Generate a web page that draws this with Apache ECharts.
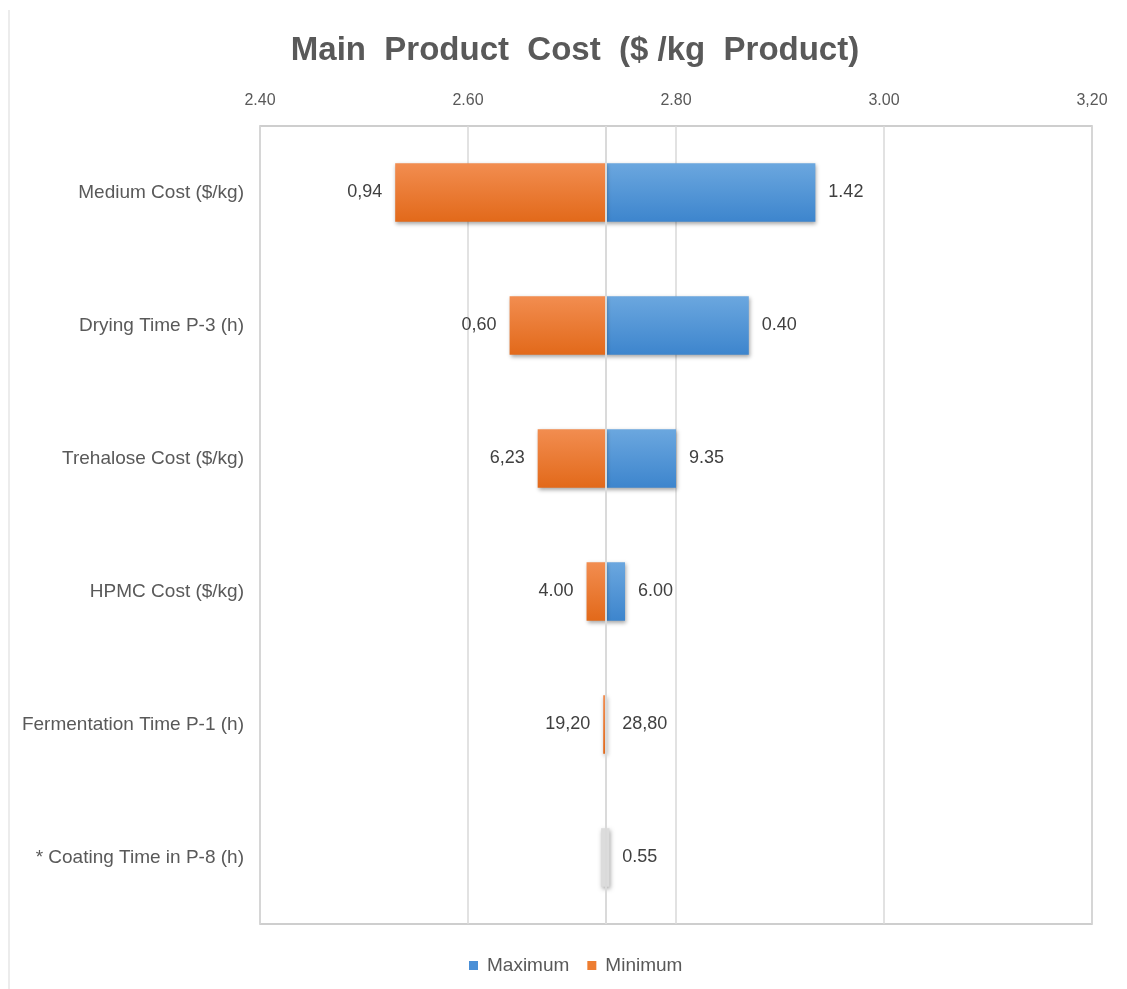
<!DOCTYPE html>
<html>
<head>
<meta charset="utf-8">
<script src="https://cdn.jsdelivr.net/npm/echarts@6/dist/echarts.min.js"></script>
<style>
  html, body { margin: 0; padding: 0; background: #ffffff; }
  #chart { width: 1127px; height: 989px; }
</style>
</head>
<body>
<div id="chart"></div>
<script>
// Sensitivity (tornado) chart of the main product cost
const categories = [
  'Medium Cost ($/kg)',
  'Drying Time P-3 (h)',
  'Trehalose Cost ($/kg)',
  'HPMC Cost ($/kg)',
  'Fermentation Time P-1 (h)',
  '* Coating Time in P-8 (h)'
];
const baseCost = 2.733;
// product cost when the parameter is at its low / high value
const minimumCost = [2.530, 2.640, 2.667, 2.714, 2.730, 2.733];
const maximumCost = [2.934, 2.870, 2.800, 2.751, 2.733, 2.733];
// parameter values written next to the bars
const minimumLabels = ['0,94', '0,60', '6,23', '4.00', '19,20', ''];
const maximumLabels = ['1.42', '0.40', '9.35', '6.00', '28,80', '0.55'];
// coating time has an almost flat response
const flatRange = [[5, 2.728, 2.736]];
const tickLabels = { '2.4': '2.40', '2.6': '2.60', '2.8': '2.80', '3': '3.00', '3.2': '3,20' };

const textColor = '#595959';
const labelFont = '"Liberation Sans", Arial, sans-serif';

function grad(top, bottom) {
  return new echarts.graphic.LinearGradient(0, 0, 0, 1, [
    { offset: 0, color: top },
    { offset: 1, color: bottom }
  ]);
}

function makeRender(fill, labels, side) {
  return function (params, api) {
    const idx = api.value(0);
    const p0 = api.coord([api.value(1), idx]);
    const p1 = api.coord([api.value(2), idx]);
    const h = api.size([0, 1])[1] * 0.44;
    const children = [];
    children.push({
      type: 'rect',
      shape: { x: p0[0], y: p0[1] - h / 2, width: Math.max(p1[0] - p0[0], 0), height: h },
      style: {
        fill: fill,
        shadowBlur: 4,
        shadowOffsetX: 1,
        shadowOffsetY: 2,
        shadowColor: 'rgba(0,0,0,0.35)'
      }
    });
    const txt = labels ? labels[params.dataIndex] : '';
    if (txt) {
      const baseX = api.coord([baseCost, idx])[0];
      const x = side === 'left' ? Math.min(p0[0], baseX - 3) - 13 : Math.max(p1[0], baseX + 3) + 13;
      children.push({
        type: 'text',
        style: {
          x: x,
          y: p0[1],
          text: txt,
          fill: '#404040',
          font: '18px ' + labelFont,
          align: side === 'left' ? 'right' : 'left',
          verticalAlign: 'middle'
        }
      });
    }
    return { type: 'group', children: children };
  };
}

// vertical line through the base cost, drawn over the bars
function renderBaseLine(params, api) {
  const cs = params.coordSys;
  const x = Math.round(api.coord([baseCost, 0])[0]);
  return {
    type: 'line',
    shape: { x1: x, y1: cs.y, x2: x, y2: cs.y + cs.height },
    style: { stroke: '#dadada', lineWidth: 2 }
  };
}

const chart = echarts.init(document.getElementById('chart'));
chart.setOption({
  backgroundColor: '#ffffff',
  animation: false,
  title: {
    text: 'Main  Product  Cost  ($ /kg  Product)',
    left: 570,
    textAlign: 'center',
    top: 29,
    textStyle: {
      fontFamily: labelFont,
      fontSize: 33,
      fontWeight: 'bold',
      color: textColor
    }
  },
  legend: {
    bottom: 9,
    left: 464,
    itemWidth: 9,
    itemHeight: 9,
    itemGap: 18,
    icon: 'rect',
    data: ['Maximum', 'Minimum'],
    textStyle: { fontFamily: labelFont, fontSize: 19, color: textColor, padding: [0, 0, 0, 4] }
  },
  grid: {
    left: 260,
    right: 35,
    top: 126,
    bottom: 65,
    show: true,
    borderColor: '#bfbfbf',
    borderWidth: 1.5
  },
  xAxis: {
    type: 'value',
    position: 'top',
    min: 2.4,
    max: 3.2,
    interval: 0.2,
    axisLine: { show: false },
    axisTick: { show: false },
    splitLine: { lineStyle: { color: '#d9d9d9', width: 1.5 } },
    axisLabel: {
      margin: 17,
      fontFamily: labelFont,
      fontSize: 16,
      color: textColor,
      formatter: function (v) { return tickLabels[String(Math.round(v * 10) / 10)] || v.toFixed(2); }
    }
  },
  yAxis: {
    type: 'category',
    data: categories,
    inverse: true,
    axisLine: { show: false },
    axisTick: { show: false },
    splitLine: { show: false },
    axisLabel: {
      margin: 16,
      fontFamily: labelFont,
      fontSize: 19,
      color: textColor
    }
  },
  series: [
    {
      name: 'Maximum',
      type: 'custom',
      itemStyle: { color: '#4A8FD6' },
      encode: { x: [1, 2], y: 0 },
      renderItem: makeRender(grad('#6BA7DF', '#3D85CD'), maximumLabels, 'right'),
      data: maximumCost.map(function (v, i) { return [i, baseCost, v]; }),
      z: 3
    },
    {
      name: 'Minimum',
      type: 'custom',
      itemStyle: { color: '#ED7D31' },
      encode: { x: [1, 2], y: 0 },
      renderItem: makeRender(grad('#F28D50', '#E2691A'), minimumLabels, 'left'),
      data: minimumCost.map(function (v, i) { return [i, v, baseCost]; }),
      z: 3
    },
    {
      name: 'Flat',
      type: 'custom',
      encode: { x: [1, 2], y: 0 },
      renderItem: makeRender('#dcdcdc', null, 'right'),
      data: flatRange,
      z: 3
    },
    {
      name: 'Base',
      type: 'custom',
      silent: true,
      encode: { x: 1, y: 0 },
      renderItem: renderBaseLine,
      data: [[0, baseCost]],
      z: 5
    }
  ],
  graphic: [
    {
      type: 'line',
      shape: { x1: 9, y1: 10, x2: 9, y2: 989 },
      style: { stroke: '#ececec', lineWidth: 2 },
      silent: true
    }
  ]
});
</script>
</body>
</html>
